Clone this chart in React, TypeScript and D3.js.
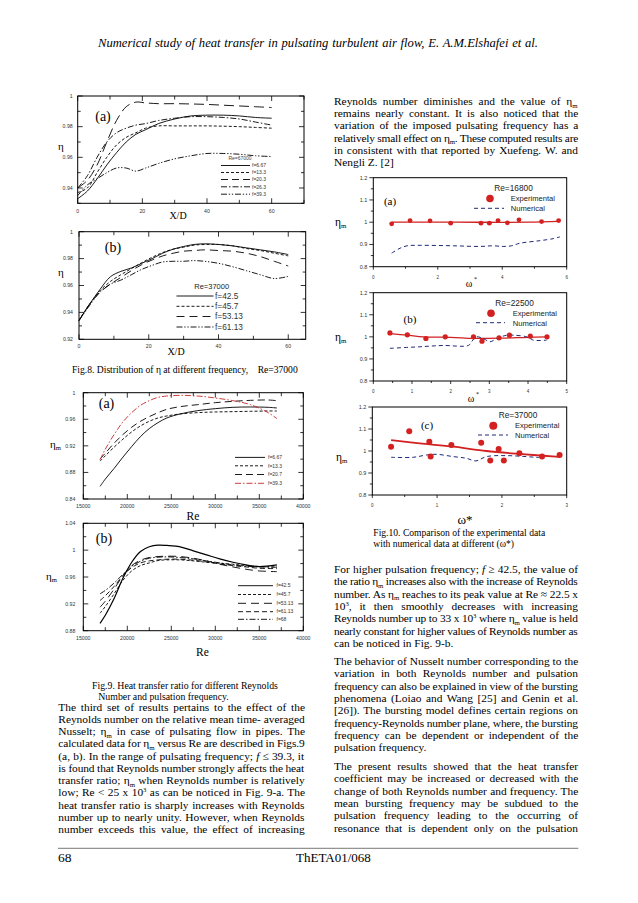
import React, { useLayoutEffect } from "react";
import * as d3 from "d3";

const SERIF = "'Liberation Serif','Times New Roman',serif";
const SANS = "'Liberation Sans',Arial,sans-serif";

// ================= DATA =================
// Fig. 8(a)  Re = 67000 : eta vs X/D
const fig8aXD = [0, 3, 6, 9, 12, 15, 18, 21, 25, 30, 35, 40, 45, 50, 55, 60];
const fig8aF667 = [0.933, 0.938, 0.946, 0.955, 0.963, 0.97, 0.975, 0.978, 0.982, 0.985, 0.987, 0.9875, 0.9875, 0.987, 0.986, 0.9855];
const fig8aF133 = [0.937, 0.94, 0.95, 0.96, 0.968, 0.973, 0.976, 0.979, 0.9805, 0.9805, 0.9805, 0.9805, 0.9803, 0.98, 0.9795, 0.979];
const fig8aF203 = [0.94, 0.945, 0.955, 0.97, 0.984, 0.993, 0.996, 0.9955, 0.995, 0.995, 0.9948, 0.9945, 0.994, 0.9935, 0.993, 0.9925];
const fig8aF263 = [0.94, 0.948, 0.96, 0.97, 0.976, 0.979, 0.981, 0.982, 0.984, 0.9855, 0.9865, 0.9865, 0.986, 0.985, 0.983, 0.981];
const fig8aF393 = [0.935, 0.942, 0.946, 0.95, 0.953, 0.953, 0.951, 0.953, 0.956, 0.959, 0.961, 0.9625, 0.9625, 0.962, 0.961, 0.9605];
const fig8aNames = ["f=6.67", "f=13.3", "f=20.3", "f=26.3", "f=39.3"];
const fig8aXTicks = [0, 10, 20, 30, 40, 50, 60, 70];
const fig8aXLabels = [0, 20, 40, 60];
const fig8aYTicks = [0.93, 0.94, 0.95, 0.96, 0.97, 0.98, 0.99, 1.0];
const fig8aYLabels = [0.94, 0.96, 0.98, 1];

// Fig. 8(b)  Re = 37000
const fig8bXD = [0, 3, 6, 9, 12, 15, 18, 21, 24, 27, 30, 33, 36, 40, 44, 48, 52, 56, 60];
const fig8bF425 = [0.934, 0.946, 0.957, 0.9665, 0.9705, 0.973, 0.9765, 0.98, 0.984, 0.987, 0.989, 0.9905, 0.991, 0.9905, 0.9895, 0.988, 0.9865, 0.985, 0.983];
const fig8bF457 = [0.934, 0.946, 0.956, 0.963, 0.968, 0.9725, 0.977, 0.981, 0.9845, 0.987, 0.9885, 0.99, 0.9905, 0.9905, 0.9895, 0.9875, 0.986, 0.984, 0.982];
const fig8bF5313 = [0.934, 0.946, 0.955, 0.961, 0.966, 0.971, 0.9755, 0.979, 0.982, 0.984, 0.9855, 0.986, 0.9865, 0.986, 0.9855, 0.984, 0.9815, 0.978, 0.9745];
const fig8bF6113 = [0.934, 0.945, 0.955, 0.961, 0.964, 0.968, 0.972, 0.975, 0.9775, 0.978, 0.978, 0.9785, 0.978, 0.9765, 0.974, 0.971, 0.968, 0.9652, 0.9668];
const fig8bNames = ["f=42.5", "f=45.7", "f=53.13", "f=61.13"];
const fig8bXTicks = [0, 10, 20, 30, 40, 50, 60];
const fig8bXLabels = [0, 20, 40, 60];
const fig8bYTicks = [0.92, 0.93, 0.94, 0.95, 0.96, 0.97, 0.98, 0.99, 1.0];
const fig8bYLabels = [0.92, 0.94, 0.96, 0.98, 1];

// Fig. 9(a)  eta_m vs Re, f <= 39.3
const fig9aRe = [16900, 17500, 18500, 19500, 20500, 21500, 22500, 23500, 24500, 26000, 28000, 30000, 32000, 34000, 36000, 37000];
const fig9aF667 = [0.859, 0.87, 0.886, 0.903, 0.919, 0.934, 0.946, 0.955, 0.962, 0.968, 0.973, 0.976, 0.978, 0.9785, 0.978, 0.977];
const fig9aF133 = [0.897, 0.905, 0.918, 0.93, 0.941, 0.95, 0.957, 0.962, 0.965, 0.968, 0.97, 0.971, 0.9715, 0.972, 0.9725, 0.9725];
const fig9aF207 = [0.9, 0.909, 0.924, 0.937, 0.948, 0.957, 0.964, 0.97, 0.975, 0.979, 0.982, 0.985, 0.987, 0.9885, 0.989, 0.988];
const fig9aF393 = [0.899, 0.915, 0.937, 0.956, 0.97, 0.981, 0.988, 0.993, 0.995, 0.996, 0.995, 0.992, 0.988, 0.982, 0.97, 0.961];
const fig9aNames = ["f=6.67", "f=13.3", "f=20.7", "f=39.3"];
const fig9XTicks = [15000, 17500, 20000, 22500, 25000, 27500, 30000, 32500, 35000, 37500, 40000];
const fig9XLabels = [15000, 20000, 25000, 30000, 35000, 40000];
const fig9aYTicks = [0.84, 0.86, 0.88, 0.9, 0.92, 0.94, 0.96, 0.98, 1.0];
const fig9aYLabels = [0.84, 0.88, 0.92, 0.96, 1];

// Fig. 9(b)  f >= 42.5
const fig9bRe = [16900, 17500, 18500, 19500, 20500, 21500, 22500, 23500, 24500, 26000, 27500, 29000, 30500, 32000, 33500, 35000, 37000];
const fig9bF425 = [0.891, 0.903, 0.928, 0.958, 0.982, 0.998, 1.005, 1.0075, 1.007, 1.005, 0.999, 0.993, 0.987, 0.982, 0.978, 0.9755, 0.978];
const fig9bF457 = [0.906, 0.916, 0.935, 0.955, 0.969, 0.977, 0.981, 0.9845, 0.9855, 0.9855, 0.984, 0.982, 0.9805, 0.979, 0.977, 0.9755, 0.975];
const fig9bF5313 = [0.915, 0.924, 0.942, 0.962, 0.977, 0.985, 0.989, 0.9905, 0.991, 0.9905, 0.988, 0.984, 0.979, 0.975, 0.9715, 0.969, 0.968];
const fig9bF6113 = [0.925, 0.932, 0.946, 0.962, 0.974, 0.981, 0.984, 0.9855, 0.9865, 0.9865, 0.985, 0.9825, 0.9795, 0.977, 0.975, 0.973, 0.9725];
const fig9bF68 = [0.935, 0.94, 0.951, 0.964, 0.976, 0.9835, 0.988, 0.9895, 0.99, 0.989, 0.987, 0.984, 0.981, 0.978, 0.976, 0.975, 0.9745];
const fig9bNames = ["f=42.5", "f=45.7", "f=53.13", "f=61.13", "f=68"];
const fig9bYTicks = [0.88, 0.9, 0.92, 0.94, 0.96, 0.98, 1.0, 1.02, 1.04];
const fig9bYLabels = [0.88, 0.92, 0.96, 1, 1.04];

// Fig. 10(a)  Re = 16800
const fig10aExpW = [0.57, 1.14, 1.76, 2.4, 3.34, 3.6, 3.87, 4.16, 4.52, 5.22, 5.75];
const fig10aExpEta = [0.9925, 1.0075, 1.006, 0.9955, 0.9955, 0.9955, 1.0075, 0.997, 1.0105, 1.003, 1.0075];
const fig10aFitW = [0.57, 2.5, 4.8, 5.75];
const fig10aFitEta = [1.0, 1.0, 1.0, 1.004];
const fig10aNumW = [0.57, 0.83, 1.05, 1.45, 2.48, 3.31, 3.72, 4.03, 4.29, 4.55, 5.17, 5.58, 5.79];
const fig10aNumEta = [0.861, 0.883, 0.894, 0.896, 0.894, 0.891, 0.894, 0.891, 0.894, 0.9055, 0.917, 0.926, 0.934];
// Fig. 10(b)  Re = 22500
const fig10bExpW = [0.43, 0.88, 1.36, 1.86, 2.59, 2.81, 3.25, 3.52, 4.06, 4.49];
const fig10bExpEta = [1.018, 1.009, 0.9925, 1.0, 1.0, 0.9806, 0.9955, 1.0075, 1.003, 1.0];
const fig10bFitW = [0.43, 0.88, 1.3, 2.0, 2.6, 3.3, 4.0, 4.49];
const fig10bFitEta = [1.015, 1.008, 1.0, 0.998, 0.993, 0.994, 0.998, 1.0];
const fig10bNumW = [0.43, 0.86, 1.2, 1.47, 1.81, 2.46, 2.54, 2.67, 2.84, 3.02, 3.19, 3.45, 3.62, 3.97, 4.14, 4.48];
const fig10bNumEta = [0.948, 0.952, 0.955, 0.958, 0.961, 0.961, 0.978, 1.0, 0.9925, 0.978, 0.9925, 1.0075, 1.0075, 1.0, 0.985, 0.985];
// Fig. 10(c)  Re = 37000
const fig10cExpW = [0.29, 0.57, 0.88, 0.9, 1.22, 1.68, 1.82, 1.95, 2.03, 2.27, 2.62, 2.89];
const fig10cExpEta = [1.0195, 1.09, 1.042, 0.9745, 1.027, 1.0376, 0.9564, 1.009, 0.9564, 0.9895, 0.9745, 0.982];
const fig10cFitW = [0.29, 0.73, 1.25, 1.76, 2.27, 2.89];
const fig10cFitEta = [1.0496, 1.0346, 1.0195, 1.0, 0.9865, 0.973];
const fig10cNumW = [0.29, 0.63, 0.84, 0.99, 1.25, 1.45, 1.6, 1.76, 2.07, 2.58];
const fig10cNumEta = [0.9714, 0.9714, 0.982, 0.985, 0.9745, 0.967, 0.955, 0.9745, 0.979, 0.97];
const fig10YTicks = [0.8, 0.85, 0.9, 0.95, 1.0, 1.05, 1.1, 1.15, 1.2];
const fig10YLabels = [0.8, 0.9, 1, 1.1, 1.2];
const fig10aXTicks = [0, 1, 2, 3, 4, 5, 6];
const fig10aXLabels = [0, 2, 4, 6];
const fig10bXTicks = [0, 0.5, 1, 1.5, 2, 2.5, 3, 3.5, 4, 4.5, 5];
const fig10bXLabels = [0, 1, 2, 3, 4, 5];
const fig10cXTicks = [0, 0.5, 1, 1.5, 2, 2.5, 3];
const fig10cXLabels = [0, 1, 2, 3];

// ================= TEXT =================
const header = "Numerical study of heat transfer in pulsating turbulent air flow, E. A.M.Elshafei et al.";
const leftText = [
  "The third set of results pertains to the effect of the",
  "Reynolds number on the relative mean time- averaged",
  "Nusselt; η_m in case of pulsating flow in pipes. The",
  "calculated data for η_m versus Re are described in Figs.9",
  "(a, b). In the range of pulsating frequency; {f} ≤ 39.3, it",
  "is found that Reynolds number strongly affects the heat",
  "transfer ratio; η_m when Reynolds number is relatively",
  "low; Re < 25 x 10^3 as can be noticed in Fig. 9-a. The",
  "heat transfer ratio is sharply increases with Reynolds",
  "number up to nearly unity. However, when Reynolds",
  "number exceeds this value, the effect of increasing",
];
const rightP0 = [
  "Reynolds number diminishes and the value of η_m",
  "remains nearly constant. It is also noticed that the",
  "variation of the imposed pulsating frequency has a",
  "relatively small effect on η_m. These computed results are",
  "in consistent with that reported by Xuefeng. W. and",
  "Nengli Z. [2]",
];
const rightP1 = [
  "For higher pulsation frequency; {f} ≥ 42.5, the value of",
  "the ratio η_m increases also with the increase of Reynolds",
  "number. As η_m reaches to its peak value at Re ≈ 22.5 x",
  "10^3, it then smoothly decreases with increasing",
  "Reynolds number up to 33 x 10^3 where η_m value is held",
  "nearly constant for higher values of Reynolds number as",
  "can be noticed in Fig. 9-b.",
];
const rightP2 = [
  "The behavior of Nusselt number corresponding to the",
  "variation in both Reynolds number and pulsation",
  "frequency can also be explained in view of the bursting",
  "phenomena (Loiao and Wang [25] and Genin et al.",
  "[26]). The bursting model defines certain regions on",
  "frequency-Reynolds number plane, where, the bursting",
  "frequency can be dependent or independent of the",
  "pulsation frequency.",
];
const rightP3 = [
  " The present results showed that the heat transfer",
  "coefficient may be increased or decreased with the",
  "change of both Reynolds number and frequency. The",
  "mean bursting frequency may be subdued to the",
  "pulsation frequency leading to the occurring of",
  "resonance that is dependent only on the pulsation",
];

// ================= HELPERS =================
type Series = { x: number[]; y: number[]; dash?: string; color?: string; w?: number };
type Cfg = {
  x0: number; x1: number; y0: number; y1: number;
  xDom: [number, number]; yDom: [number, number];
  xTicks: number[]; xLabels: number[];
  yTicks: number[]; yLabels: number[];
  yFmt: (v: number) => string;
  inward: boolean;
  fs: number; xfs: number;
  xLabDy: number; yLabGap: number;
  series: Series[];
  dots?: { x: number[]; y: number[]; r: number; color: string };
};

const near = (arr: number[], v: number) => arr.some((a) => Math.abs(a - v) < 1e-9);

function Frame({ c }: { c: Cfg }) {
  const sx = d3.scaleLinear().domain(c.xDom).range([c.x0, c.x1]);
  const sy = d3.scaleLinear().domain(c.yDom).range([c.y1, c.y0]);
  const gen = d3
    .line<[number, number]>()
    .x((d) => sx(d[0]))
    .y((d) => sy(d[1]))
    .curve(d3.curveCatmullRom.alpha(0.5));
  const els: React.ReactNode[] = [];
  c.xTicks.forEach((v, i) => {
    const X = sx(v);
    const maj = near(c.xLabels, v);
    if (c.inward) {
      const L = maj ? 5 : 3.5;
      els.push(<line key={"xb" + i} x1={X} x2={X} y1={c.y1} y2={c.y1 - L} />);
      els.push(<line key={"xt" + i} x1={X} x2={X} y1={c.y0} y2={c.y0 + L} />);
    } else {
      const L = maj ? 3 : 2;
      els.push(<line key={"xb" + i} x1={X} x2={X} y1={c.y1} y2={c.y1 + L} />);
    }
  });
  c.yTicks.forEach((v, i) => {
    const Y = sy(v);
    const maj = near(c.yLabels, v);
    if (c.inward) {
      const L = maj ? 5 : 3;
      els.push(<line key={"yl" + i} x1={c.x0} x2={c.x0 + L} y1={Y} y2={Y} />);
      els.push(<line key={"yr" + i} x1={c.x1} x2={c.x1 - L} y1={Y} y2={Y} />);
    } else {
      const L = maj ? 4 : 2.5;
      els.push(<line key={"yl" + i} x1={c.x0} x2={c.x0 - L} y1={Y} y2={Y} />);
    }
  });
  return (
    <g>
      <rect x={c.x0} y={c.y0} width={c.x1 - c.x0} height={c.y1 - c.y0} fill="none" stroke="#000" strokeWidth={1} />
      <g stroke="#000" strokeWidth={0.8}>{els}</g>
      <g fontFamily={SANS} fontSize={c.xfs} fill="#333" textAnchor="middle">
        {c.xLabels.map((v, i) => (
          <text key={i} x={sx(v)} y={c.y1 + c.xLabDy}>{String(v)}</text>
        ))}
      </g>
      <g fontFamily={SANS} fontSize={c.fs} fill="#333" textAnchor="end">
        {c.yLabels.map((v, i) => (
          <text key={i} x={c.x0 - c.yLabGap} y={sy(v) + c.fs * 0.35}>{c.yFmt(v)}</text>
        ))}
      </g>
      {c.series.map((s, i) => (
        <path
          key={i}
          d={gen(s.x.map((x, j) => [x, s.y[j]] as [number, number])) || ""}
          fill="none"
          stroke={s.color || "#000"}
          strokeWidth={s.w || 0.9}
          strokeDasharray={s.dash}
        />
      ))}
      {c.dots &&
        c.dots.x.map((x, i) => (
          <circle key={i} cx={sx(x)} cy={sy(c.dots!.y[i])} r={c.dots!.r} fill={c.dots!.color} />
        ))}
    </g>
  );
}

function rich(s: string, fs: number) {
  const parts = s.split(/(η_m|\^3|\{f\})/);
  const out: React.ReactNode[] = [];
  let shift = 0;
  parts.forEach((p, i) => {
    if (!p) return;
    if (p === "η_m") {
      out.push(<tspan key={i + "a"} dy={-shift}>η</tspan>);
      out.push(<tspan key={i + "b"} dy={fs * 0.22} fontSize={fs * 0.6}>m</tspan>);
      shift = fs * 0.22;
    } else if (p === "^3") {
      out.push(<tspan key={i} dy={-fs * 0.38 - shift} fontSize={fs * 0.58}>3</tspan>);
      shift = -fs * 0.38;
    } else if (p === "{f}") {
      out.push(<tspan key={i} dy={-shift} fontStyle="italic">f</tspan>);
      shift = 0;
    } else {
      out.push(<tspan key={i} dy={-shift}>{p}</tspan>);
      shift = 0;
    }
  });
  return out;
}

function Para({ lines, x, y0, dy, width, fs, justifyLast }: { lines: string[]; x: number; y0: number; dy: number; width: number; fs: number; justifyLast: boolean }) {
  return (
    <g fontFamily={SERIF} fontSize={fs} fill="#000" style={{ whiteSpace: "pre" }}>
      {lines.map((l, i) => {
        const just = i < lines.length - 1 || justifyLast;
        return (
          <text key={i} x={x} y={y0 + i * dy} data-just={just ? width : undefined}>
            {rich(l, fs)}
          </text>
        );
      })}
    </g>
  );
}

const DASH_SHORT = "3,2";
const DASH_LONG = "7,4";
const DASH_DOT = "6,2,1.5,2";
const DASH_DOT2 = "6,1.8,1.3,1.8,1.3,1.8";

function LegendRow({ x1, x2, y, dash, color, label, fs, tx }: any) {
  return (
    <g>
      <line x1={x1} x2={x2} y1={y} y2={y} stroke={color || "#000"} strokeWidth={0.9} strokeDasharray={dash} />
      <text x={tx} y={y + fs * 0.35} fontFamily={SANS} fontSize={fs} fill="#333">{label}</text>
    </g>
  );
}

const fmt2 = (v: number) => (Math.abs(v - 1) < 1e-9 ? "1" : v.toFixed(2));
const fmt1 = (v: number) => (Math.abs(v - 1) < 1e-9 ? "1" : v.toFixed(1));

export default function App() {
  useLayoutEffect(() => {
    document.querySelectorAll("text[data-just]").forEach((node) => {
      const t = node as SVGTextElement;
      const target = parseFloat(t.getAttribute("data-just") || "0");
      t.style.wordSpacing = "0px";
      t.style.letterSpacing = "0px";
      const w0 = t.getBBox().width;
      const txt = t.textContent || "";
      const n = (txt.trim().match(/ /g) || []).length;
      const slack = target - w0;
      if (slack >= 0 && n > 0) {
        t.style.wordSpacing = slack / n + "px";
      } else if (slack < 0) {
        t.style.letterSpacing = slack / Math.max(1, txt.length - 1) + "px";
      }
      const w1 = t.getBBox().width;
      if (Math.abs(w1 - target) > 4) {
        t.style.wordSpacing = "0px";
        t.style.letterSpacing = "0px";
        t.setAttribute("textLength", String(target));
        t.setAttribute("lengthAdjust", "spacing");
      }
    });
  }, []);

  const c8a: Cfg = {
    x0: 77.7, x1: 304, y0: 96, y1: 203.3, xDom: [0, 70], yDom: [0.93, 1.0],
    xTicks: fig8aXTicks, xLabels: fig8aXLabels, yTicks: fig8aYTicks, yLabels: fig8aYLabels, yFmt: fmt2,
    inward: true, fs: 5.2, xfs: 5.2, xLabDy: 9.5, yLabGap: 5,
    series: [
      { x: fig8aXD, y: fig8aF667 },
      { x: fig8aXD, y: fig8aF133, dash: DASH_SHORT },
      { x: fig8aXD, y: fig8aF203, dash: "10,5" },
      { x: fig8aXD, y: fig8aF263, dash: DASH_DOT },
      { x: fig8aXD, y: fig8aF393, dash: DASH_DOT2 },
    ],
  };
  const c8b: Cfg = {
    x0: 79, x1: 305.7, y0: 231.7, y1: 339.3, xDom: [0, 65], yDom: [0.92, 1.0],
    xTicks: fig8bXTicks, xLabels: fig8bXLabels, yTicks: fig8bYTicks, yLabels: fig8bYLabels, yFmt: fmt2,
    inward: true, fs: 5.2, xfs: 5.2, xLabDy: 9, yLabGap: 6,
    series: [
      { x: fig8bXD, y: fig8bF425 },
      { x: fig8bXD, y: fig8bF457, dash: DASH_SHORT },
      { x: fig8bXD, y: fig8bF5313, dash: "8,5" },
      { x: fig8bXD, y: fig8bF6113, dash: DASH_DOT2 },
    ],
  };
  const c9a: Cfg = {
    x0: 83.3, x1: 303.3, y0: 392.7, y1: 499, xDom: [15000, 40000], yDom: [0.84, 1.0],
    xTicks: fig9XTicks, xLabels: fig9XLabels, yTicks: fig9aYTicks, yLabels: fig9aYLabels, yFmt: fmt2,
    inward: true, fs: 5.2, xfs: 5.2, xLabDy: 9, yLabGap: 8,
    series: [
      { x: fig9aRe, y: fig9aF667 },
      { x: fig9aRe, y: fig9aF133, dash: DASH_SHORT },
      { x: fig9aRe, y: fig9aF207, dash: DASH_LONG },
      { x: fig9aRe, y: fig9aF393, dash: DASH_DOT, color: "#c62828" },
    ],
  };
  const c9b: Cfg = {
    x0: 83.3, x1: 303.3, y0: 523.3, y1: 630.7, xDom: [15000, 40000], yDom: [0.88, 1.04],
    xTicks: fig9XTicks, xLabels: fig9XLabels, yTicks: fig9bYTicks, yLabels: fig9bYLabels, yFmt: fmt2,
    inward: true, fs: 5.2, xfs: 5.2, xLabDy: 9, yLabGap: 8,
    series: [
      { x: fig9bRe, y: fig9bF425, w: 1.2 },
      { x: fig9bRe, y: fig9bF457, dash: DASH_SHORT },
      { x: fig9bRe, y: fig9bF5313, dash: "8,5" },
      { x: fig9bRe, y: fig9bF6113, dash: "5,3" },
      { x: fig9bRe, y: fig9bF68, dash: DASH_DOT },
    ],
  };
  const RED = "#d32020";
  const NAVY = "#1f2a7a";
  const c10 = (x0: number, y0: number, y1: number, xMax: number, xt: number[], xl: number[], ew: number[], ee: number[], fw: number[], fe: number[], nw: number[], ne: number[], r: number, fw2: number): Cfg => ({
    x0, x1: 566.7, y0, y1, xDom: [0, xMax], yDom: [0.8, 1.2],
    xTicks: xt, xLabels: xl, yTicks: fig10YTicks, yLabels: fig10YLabels, yFmt: fmt1,
    inward: false, fs: 5.5, xfs: 4.5, xLabDy: 12, yLabGap: 6,
    series: [
      { x: fw, y: fe, color: RED, w: fw2 },
      { x: nw, y: ne, color: NAVY, dash: "4,3", w: 1 },
    ],
    dots: { x: ew, y: ee, r, color: RED },
  });
  const c10a = c10(373.3, 177.7, 266.7, 6, fig10aXTicks, fig10aXLabels, fig10aExpW, fig10aExpEta, fig10aFitW, fig10aFitEta, fig10aNumW, fig10aNumEta, 2.4, 1.3);
  const c10b = c10(373.3, 292.7, 381, 5, fig10bXTicks, fig10bXLabels, fig10bExpW, fig10bExpEta, fig10bFitW, fig10bFitEta, fig10bNumW, fig10bNumEta, 2.6, 1.3);
  const c10c = c10(372.3, 407, 495, 3, fig10cXTicks, fig10cXLabels, fig10cExpW, fig10cExpEta, fig10cFitW, fig10cFitEta, fig10cNumW, fig10cNumEta, 3, 1.8);

  const FS = 11.4;

  return (
    <svg width={638} height={903} style={{ position: "absolute", left: 0, top: 0, background: "#fff" }}>
      <rect x={0} y={0} width={638} height={903} fill="#fff" />
      {/* header */}
      <text x={98} y={47} fontFamily={SERIF} fontStyle="italic" fontSize={12.6} data-just={441} style={{ whiteSpace: "pre" }}>{header}</text>

      {/* Fig 8a */}
      <Frame c={c8a} />
      <text x={103} y={121} fontFamily={SERIF} fontSize={14} textAnchor="middle">(a)</text>
      <text x={61} y={150} fontFamily={SERIF} fontSize={11} textAnchor="middle">η</text>
      <text x={178} y={218.5} fontFamily={SERIF} fontSize={10} textAnchor="middle">X/D</text>
      <text x={240} y={159.5} fontFamily={SANS} fontSize={5} fill="#444" textAnchor="middle">Re=67000</text>
      {fig8aNames.map((nm, i) => (
        <LegendRow key={nm} x1={221} x2={250} y={[165.5, 172.5, 179.5, 186.8, 194.2][i]} dash={[undefined, DASH_SHORT, "7,4", DASH_DOT, DASH_DOT2][i]} label={nm} fs={5} tx={252} />
      ))}

      {/* Fig 8b */}
      <Frame c={c8b} />
      <text x={113} y={252} fontFamily={SERIF} fontSize={14} textAnchor="middle">(b)</text>
      <text x={61} y={276} fontFamily={SERIF} fontSize={11} textAnchor="middle">η</text>
      <text x={176} y={355} fontFamily={SERIF} fontSize={10} textAnchor="middle">X/D</text>
      <text x={211.7} y={289} fontFamily={SANS} fontSize={7.5} fill="#222" textAnchor="middle">Re=37000</text>
      {fig8bNames.map((nm, i) => (
        <LegendRow key={nm} x1={176.5} x2={213.5} y={[296, 306.3, 316.5, 327][i]} dash={[undefined, DASH_SHORT, "8,5", DASH_DOT2][i]} label={nm} fs={8.3} tx={215} />
      ))}
      <text x={72} y={372.5} fontFamily={SERIF} fontSize={9.6} style={{ whiteSpace: "pre" }}>Fig.8. Distribution of η at different frequency,    Re=37000</text>

      {/* Fig 9a */}
      <Frame c={c9a} />
      <text x={106.5} y={408} fontFamily={SERIF} fontSize={14} textAnchor="middle">(a)</text>
      <text x={50} y={448} fontFamily={SERIF} fontSize={11}>{rich("η_m", 11)}</text>
      <text x={193} y={520} fontFamily={SERIF} fontSize={11.5} textAnchor="middle">Re</text>
      {fig9aNames.map((nm, i) => (
        <LegendRow key={nm} x1={235} x2={265} y={[457.4, 465.8, 474.5, 483.3][i]} dash={[undefined, DASH_SHORT, DASH_LONG, DASH_DOT][i]} color={i === 3 ? "#c62828" : "#000"} label={nm} fs={5} tx={268} />
      ))}

      {/* Fig 9b */}
      <Frame c={c9b} />
      <text x={104} y={543} fontFamily={SERIF} fontSize={14} textAnchor="middle">(b)</text>
      <text x={46} y={580} fontFamily={SERIF} fontSize={11}>{rich("η_m", 11)}</text>
      <text x={202.5} y={655.5} fontFamily={SERIF} fontSize={11.5} textAnchor="middle">Re</text>
      {fig9bNames.map((nm, i) => (
        <LegendRow key={nm} x1={238} x2={273} y={[585.7, 594.5, 603.3, 611.7, 619.3][i]} dash={[undefined, DASH_SHORT, "8,5", "5,3", DASH_DOT][i]} label={nm} fs={5} tx={276.5} />
      ))}
      <text x={92} y={688.5} fontFamily={SERIF} fontSize={9.8} style={{ whiteSpace: "pre" }}>Fig.9. Heat transfer ratio for different Reynolds</text>
      <text x={98.3} y={699.5} fontFamily={SERIF} fontSize={9.8} style={{ whiteSpace: "pre" }}>Number and pulsation frequency.</text>

      {/* left column text */}
      <Para lines={leftText} x={58.3} y0={710.5} dy={12.25} width={246.7} fs={FS} justifyLast={true} />

      {/* right column text */}
      <Para lines={rightP0} x={334} y0={105} dy={12.2} width={244.3} fs={FS} justifyLast={false} />
      <Para lines={rightP1} x={334} y0={573} dy={12.3} width={244.3} fs={FS} justifyLast={false} />
      <Para lines={rightP2} x={334} y0={665} dy={12.33} width={244.3} fs={FS} justifyLast={false} />
      <Para lines={rightP3} x={334} y0={770} dy={12.35} width={244.3} fs={FS} justifyLast={true} />

      {/* Fig 10a */}
      <Frame c={c10a} />
      <text x={390} y={204.5} fontFamily={SERIF} fontSize={11} textAnchor="middle">(a)</text>
      <text x={335} y={225.5} fontFamily={SERIF} fontSize={11.5}>{rich("η_m", 11.5)}</text>
      <text x={513.5} y={191} fontFamily={SANS} fontSize={8.3} fill="#222" textAnchor="middle">Re=16800</text>
      <circle cx={490} cy={198.5} r={3.8} fill={RED} />
      <text x={510.7} y={201} fontFamily={SANS} fontSize={7.6} fill="#222">Experimental</text>
      <line x1={474} x2={504} y1={208.3} y2={208.3} stroke={NAVY} strokeDasharray="4,3" />
      <text x={510.7} y={211} fontFamily={SANS} fontSize={7.6} fill="#222">Numerical</text>
      <text x={469} y={287} fontFamily={SERIF} fontSize={10} textAnchor="middle">ω</text>
      <text x={474} y={280.5} fontFamily={SERIF} fontSize={6}>*</text>

      {/* Fig 10b */}
      <Frame c={c10b} />
      <text x={410} y={323} fontFamily={SERIF} fontSize={11} textAnchor="middle">(b)</text>
      <text x={335} y={340.5} fontFamily={SERIF} fontSize={11.5}>{rich("η_m", 11.5)}</text>
      <text x={514.5} y={305.5} fontFamily={SANS} fontSize={8.3} fill="#222" textAnchor="middle">Re=22500</text>
      <circle cx={491} cy={313.3} r={3.8} fill={RED} />
      <text x={512.7} y={316} fontFamily={SANS} fontSize={7.6} fill="#222">Experimental</text>
      <line x1={476} x2={505} y1={322.7} y2={322.7} stroke={NAVY} strokeDasharray="4,3" />
      <text x={512.7} y={325.6} fontFamily={SANS} fontSize={7.6} fill="#222">Numerical</text>
      <text x={471} y={402} fontFamily={SERIF} fontSize={10} textAnchor="middle">ω</text>
      <text x={476} y={395.5} fontFamily={SERIF} fontSize={6}>*</text>

      {/* Fig 10c */}
      <Frame c={c10c} />
      <text x={427} y={428.5} fontFamily={SERIF} fontSize={11} textAnchor="middle">(c)</text>
      <text x={336} y={460.5} fontFamily={SERIF} fontSize={11.5}>{rich("η_m", 11.5)}</text>
      <text x={518} y={418} fontFamily={SANS} fontSize={8.3} fill="#222" textAnchor="middle">Re=37000</text>
      <circle cx={493.3} cy={425.7} r={4} fill={RED} />
      <text x={515} y={428.4} fontFamily={SANS} fontSize={7.6} fill="#222">Experimental</text>
      <line x1={478} x2={508} y1={435} y2={435} stroke={NAVY} strokeDasharray="4,3" />
      <text x={515} y={437.8} fontFamily={SANS} fontSize={7.6} fill="#222">Numerical</text>
      <text x={465} y={524} fontFamily={SERIF} fontSize={13} textAnchor="middle">ω*</text>
      <text x={373.3} y={536} fontFamily={SERIF} fontSize={9.6} style={{ whiteSpace: "pre" }}>Fig.10. Comparison of the experimental data</text>
      <text x={373.3} y={547} fontFamily={SERIF} fontSize={9.6} style={{ whiteSpace: "pre" }}>with numerical data at different (ω*)</text>

      {/* footer */}
      <line x1={58} x2={578.3} y1={848.3} y2={848.3} stroke="#555" strokeWidth={0.8} />
      <text x={58} y={862} fontFamily={SERIF} fontSize={13.5}>68</text>
      <text x={296} y={862} fontFamily={SERIF} fontSize={13}>ThETA01/068</text>
    </svg>
  );
}
